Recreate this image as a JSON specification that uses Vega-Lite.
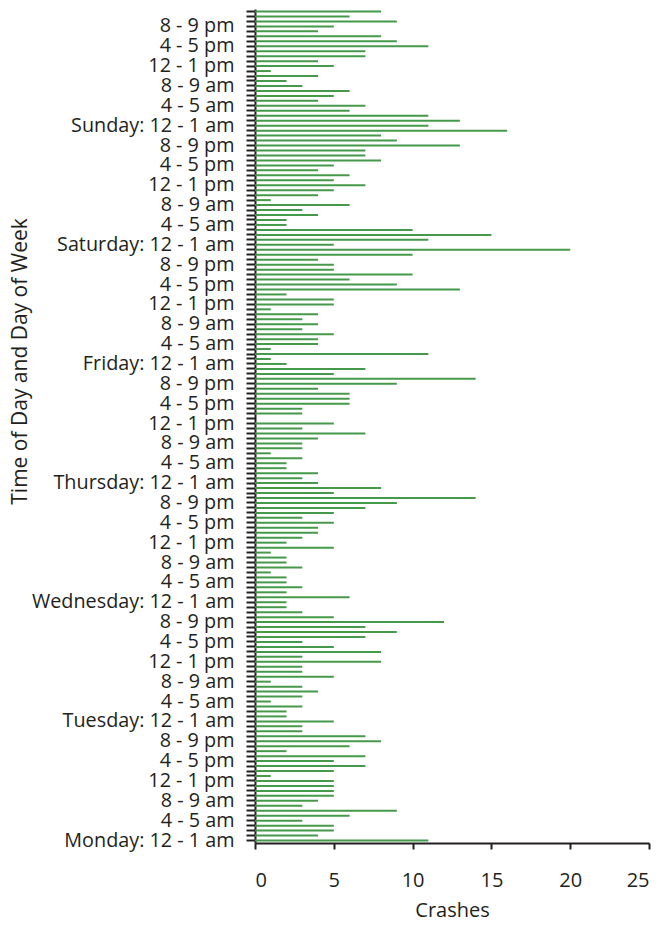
{
  "$schema": "https://vega.github.io/schema/vega-lite/v6.json",
  "autosize": {"type": "none"},
  "width": 394,
  "height": 834,
  "padding": {"left": 255, "top": 9, "right": 14, "bottom": 86},
  "background": "white",
  "config": {
    "view": {"stroke": null},
    "font": "Open Sans",
    "axis": {"grid": false, "labelFont": "Open Sans", "titleFont": "Open Sans", "labelColor": "#231f20", "titleColor": "#231f20", "titleFontWeight": "normal"}
  },
  "data": {
    "values": [
      {"slot":0,"day":"Monday","crashes":11},{"slot":1,"day":"Monday","crashes":4},{"slot":2,"day":"Monday","crashes":5},{"slot":3,"day":"Monday","crashes":5},
      {"slot":4,"day":"Monday","crashes":3},{"slot":5,"day":"Monday","crashes":6},{"slot":6,"day":"Monday","crashes":9},{"slot":7,"day":"Monday","crashes":3},
      {"slot":8,"day":"Monday","crashes":4},{"slot":9,"day":"Monday","crashes":5},{"slot":10,"day":"Monday","crashes":5},{"slot":11,"day":"Monday","crashes":5},
      {"slot":12,"day":"Monday","crashes":5},{"slot":13,"day":"Monday","crashes":1},{"slot":14,"day":"Monday","crashes":5},{"slot":15,"day":"Monday","crashes":7},
      {"slot":16,"day":"Monday","crashes":5},{"slot":17,"day":"Monday","crashes":7},{"slot":18,"day":"Monday","crashes":2},{"slot":19,"day":"Monday","crashes":6},
      {"slot":20,"day":"Monday","crashes":8},{"slot":21,"day":"Monday","crashes":7},{"slot":22,"day":"Monday","crashes":3},{"slot":23,"day":"Monday","crashes":3},
      {"slot":24,"day":"Tuesday","crashes":5},{"slot":25,"day":"Tuesday","crashes":2},{"slot":26,"day":"Tuesday","crashes":2},{"slot":27,"day":"Tuesday","crashes":3},
      {"slot":28,"day":"Tuesday","crashes":1},{"slot":29,"day":"Tuesday","crashes":3},{"slot":30,"day":"Tuesday","crashes":4},{"slot":31,"day":"Tuesday","crashes":3},
      {"slot":32,"day":"Tuesday","crashes":1},{"slot":33,"day":"Tuesday","crashes":5},{"slot":34,"day":"Tuesday","crashes":3},{"slot":35,"day":"Tuesday","crashes":3},
      {"slot":36,"day":"Tuesday","crashes":8},{"slot":37,"day":"Tuesday","crashes":3},{"slot":38,"day":"Tuesday","crashes":8},{"slot":39,"day":"Tuesday","crashes":5},
      {"slot":40,"day":"Tuesday","crashes":3},{"slot":41,"day":"Tuesday","crashes":7},{"slot":42,"day":"Tuesday","crashes":9},{"slot":43,"day":"Tuesday","crashes":7},
      {"slot":44,"day":"Tuesday","crashes":12},{"slot":45,"day":"Tuesday","crashes":5},{"slot":46,"day":"Tuesday","crashes":3},{"slot":47,"day":"Tuesday","crashes":2},
      {"slot":48,"day":"Wednesday","crashes":2},{"slot":49,"day":"Wednesday","crashes":6},{"slot":50,"day":"Wednesday","crashes":2},{"slot":51,"day":"Wednesday","crashes":3},
      {"slot":52,"day":"Wednesday","crashes":2},{"slot":53,"day":"Wednesday","crashes":2},{"slot":54,"day":"Wednesday","crashes":1},{"slot":55,"day":"Wednesday","crashes":3},
      {"slot":56,"day":"Wednesday","crashes":2},{"slot":57,"day":"Wednesday","crashes":2},{"slot":58,"day":"Wednesday","crashes":1},{"slot":59,"day":"Wednesday","crashes":5},
      {"slot":60,"day":"Wednesday","crashes":2},{"slot":61,"day":"Wednesday","crashes":3},{"slot":62,"day":"Wednesday","crashes":4},{"slot":63,"day":"Wednesday","crashes":4},
      {"slot":64,"day":"Wednesday","crashes":5},{"slot":65,"day":"Wednesday","crashes":3},{"slot":66,"day":"Wednesday","crashes":5},{"slot":67,"day":"Wednesday","crashes":7},
      {"slot":68,"day":"Wednesday","crashes":9},{"slot":69,"day":"Wednesday","crashes":14},{"slot":70,"day":"Wednesday","crashes":5},{"slot":71,"day":"Wednesday","crashes":8},
      {"slot":72,"day":"Thursday","crashes":4},{"slot":73,"day":"Thursday","crashes":3},{"slot":74,"day":"Thursday","crashes":4},{"slot":75,"day":"Thursday","crashes":2},
      {"slot":76,"day":"Thursday","crashes":2},{"slot":77,"day":"Thursday","crashes":3},{"slot":78,"day":"Thursday","crashes":1},{"slot":79,"day":"Thursday","crashes":3},
      {"slot":80,"day":"Thursday","crashes":3},{"slot":81,"day":"Thursday","crashes":4},{"slot":82,"day":"Thursday","crashes":7},{"slot":83,"day":"Thursday","crashes":3},
      {"slot":84,"day":"Thursday","crashes":5},{"slot":85,"day":"Thursday","crashes":0},{"slot":86,"day":"Thursday","crashes":3},{"slot":87,"day":"Thursday","crashes":3},
      {"slot":88,"day":"Thursday","crashes":6},{"slot":89,"day":"Thursday","crashes":6},{"slot":90,"day":"Thursday","crashes":6},{"slot":91,"day":"Thursday","crashes":4},
      {"slot":92,"day":"Thursday","crashes":9},{"slot":93,"day":"Thursday","crashes":14},{"slot":94,"day":"Thursday","crashes":5},{"slot":95,"day":"Thursday","crashes":7},
      {"slot":96,"day":"Friday","crashes":2},{"slot":97,"day":"Friday","crashes":1},{"slot":98,"day":"Friday","crashes":11},{"slot":99,"day":"Friday","crashes":1},
      {"slot":100,"day":"Friday","crashes":4},{"slot":101,"day":"Friday","crashes":4},{"slot":102,"day":"Friday","crashes":5},{"slot":103,"day":"Friday","crashes":3},
      {"slot":104,"day":"Friday","crashes":4},{"slot":105,"day":"Friday","crashes":3},{"slot":106,"day":"Friday","crashes":4},{"slot":107,"day":"Friday","crashes":1},
      {"slot":108,"day":"Friday","crashes":5},{"slot":109,"day":"Friday","crashes":5},{"slot":110,"day":"Friday","crashes":2},{"slot":111,"day":"Friday","crashes":13},
      {"slot":112,"day":"Friday","crashes":9},{"slot":113,"day":"Friday","crashes":6},{"slot":114,"day":"Friday","crashes":10},{"slot":115,"day":"Friday","crashes":5},
      {"slot":116,"day":"Friday","crashes":5},{"slot":117,"day":"Friday","crashes":4},{"slot":118,"day":"Friday","crashes":10},{"slot":119,"day":"Friday","crashes":20},
      {"slot":120,"day":"Saturday","crashes":5},{"slot":121,"day":"Saturday","crashes":11},{"slot":122,"day":"Saturday","crashes":15},{"slot":123,"day":"Saturday","crashes":10},
      {"slot":124,"day":"Saturday","crashes":2},{"slot":125,"day":"Saturday","crashes":2},{"slot":126,"day":"Saturday","crashes":4},{"slot":127,"day":"Saturday","crashes":3},
      {"slot":128,"day":"Saturday","crashes":6},{"slot":129,"day":"Saturday","crashes":1},{"slot":130,"day":"Saturday","crashes":4},{"slot":131,"day":"Saturday","crashes":5},
      {"slot":132,"day":"Saturday","crashes":7},{"slot":133,"day":"Saturday","crashes":5},{"slot":134,"day":"Saturday","crashes":6},{"slot":135,"day":"Saturday","crashes":4},
      {"slot":136,"day":"Saturday","crashes":5},{"slot":137,"day":"Saturday","crashes":8},{"slot":138,"day":"Saturday","crashes":7},{"slot":139,"day":"Saturday","crashes":7},
      {"slot":140,"day":"Saturday","crashes":13},{"slot":141,"day":"Saturday","crashes":9},{"slot":142,"day":"Saturday","crashes":8},{"slot":143,"day":"Saturday","crashes":16},
      {"slot":144,"day":"Sunday","crashes":11},{"slot":145,"day":"Sunday","crashes":13},{"slot":146,"day":"Sunday","crashes":11},{"slot":147,"day":"Sunday","crashes":6},
      {"slot":148,"day":"Sunday","crashes":7},{"slot":149,"day":"Sunday","crashes":4},{"slot":150,"day":"Sunday","crashes":5},{"slot":151,"day":"Sunday","crashes":6},
      {"slot":152,"day":"Sunday","crashes":3},{"slot":153,"day":"Sunday","crashes":2},{"slot":154,"day":"Sunday","crashes":4},{"slot":155,"day":"Sunday","crashes":1},
      {"slot":156,"day":"Sunday","crashes":5},{"slot":157,"day":"Sunday","crashes":4},{"slot":158,"day":"Sunday","crashes":7},{"slot":159,"day":"Sunday","crashes":7},
      {"slot":160,"day":"Sunday","crashes":11},{"slot":161,"day":"Sunday","crashes":9},{"slot":162,"day":"Sunday","crashes":8},{"slot":163,"day":"Sunday","crashes":4},
      {"slot":164,"day":"Sunday","crashes":5},{"slot":165,"day":"Sunday","crashes":9},{"slot":166,"day":"Sunday","crashes":6},{"slot":167,"day":"Sunday","crashes":8}
    ]
  },
  "mark": {"type": "bar", "color": "#449a48", "size": 2},
  "encoding": {
    "y": {
      "field": "slot",
      "type": "ordinal",
      "sort": "descending",
      "scale": {"paddingInner": 0, "paddingOuter": 0},
      "axis": {
        "title": "Time of Day and Day of Week",
        "titleFontSize": 21,
        "titleX": -235,
        "titleY": 352,
        "titleAlign": "center",
        "titleBaseline": "middle",
        "labelFontSize": 19.8,
        "labelPadding": 12,
        "labelOverlap": false,
        "labelBound": false,
        "labelLimit": 0,
        "labelAngle": 0,
        "domainColor": "#231f20",
        "domainWidth": 2,
        "tickColor": "#231f20",
        "tickWidth": 2,
        "tickSize": 9,
        "labelExpr": "datum.value % 4 != 0 ? '' : (datum.value % 24 == 0 ? ['Monday','Tuesday','Wednesday','Thursday','Friday','Saturday','Sunday'][floor(datum.value / 24)] + ': ' : '') + ['12 - 1 am','4 - 5 am','8 - 9 am','12 - 1 pm','4 - 5 pm','8 - 9 pm'][(datum.value % 24) / 4]"
      }
    },
    "x": {
      "field": "crashes",
      "type": "quantitative",
      "scale": {"domain": [0, 25], "nice": false},
      "axis": {
        "title": "Crashes",
        "titleFontSize": 20,
        "titlePadding": 10,
        "values": [0, 5, 10, 15, 20, 25],
        "labelFontSize": 20,
        "labelPadding": 21,
        "domainColor": "#231f20",
        "domainWidth": 2,
        "tickColor": "#231f20",
        "tickWidth": 2,
        "tickSize": 6
      }
    }
  }
}
